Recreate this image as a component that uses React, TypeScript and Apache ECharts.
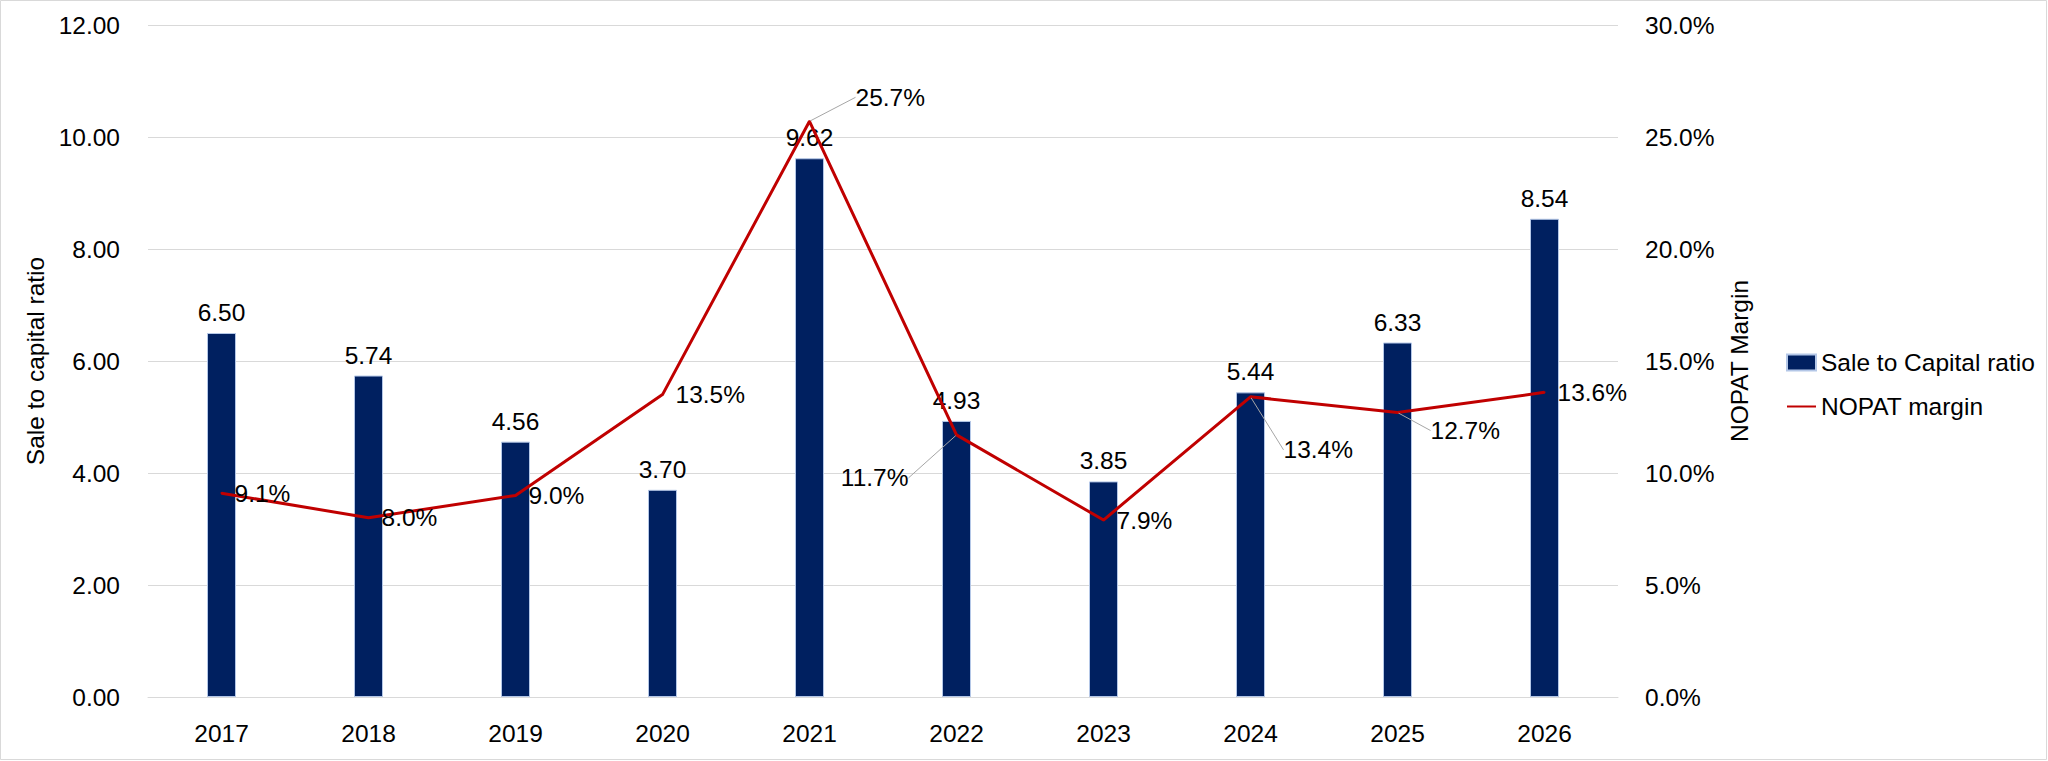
import React, { useEffect, useRef } from "react";
import * as echarts from "echarts";

const categories = ["2017", "2018", "2019", "2020", "2021", "2022", "2023", "2024", "2025", "2026"];
const saleToCapital = [6.5, 5.74, 4.56, 3.7, 9.62, 4.93, 3.85, 5.44, 6.33, 8.54];
const nopatMargin = [9.1, 8.0, 9.0, 13.5, 25.7, 11.7, 7.9, 13.4, 12.7, 13.6];
const leftTicks = { min: 0, max: 12, interval: 2 };
const rightTicks = { min: 0, max: 30, interval: 5 };

// label placement offsets for the line labels (dx, dy, position)
const lineLabelMoves: Record<number, { dx: number; dy: number; pos: string }> = {
  4: { dx: 33, dy: -24, pos: "right" },
  5: { dx: -35, dy: 43, pos: "left" },
  7: { dx: 20, dy: 53, pos: "right" },
  8: { dx: 20, dy: 18, pos: "right" },
};

const FONT = "'Liberation Sans', Arial, sans-serif";
const FS = 24.5;

export default function App() {
  const ref = useRef<HTMLDivElement>(null);
  useEffect(() => {
    document.body.style.margin = "0";
    if (!ref.current) return;
    const chart = echarts.init(ref.current, undefined, { renderer: "svg" });
    const lineData = nopatMargin.map((v, i) => {
      const m = lineLabelMoves[i];
      return {
        value: v,
        label: { position: m ? m.pos : "right" },
        labelLine: { show: !!m },
      };
    });
    chart.setOption({
      animation: false,
      backgroundColor: "#fff",
      textStyle: { fontFamily: FONT },
      graphic: [
        {
          type: "rect",
          shape: { x: 0.5, y: 0.5, width: 2046, height: 759 },
          style: { fill: "none", stroke: "#d9d9d9", lineWidth: 1 },
          silent: true,
        },
      ],
      grid: { left: 148, right: 430, top: 25, bottom: 64 },
      legend: {
        orient: "vertical",
        left: 1781,
        top: 345,
        itemWidth: 29,
        itemHeight: 16,
        itemGap: 19,
        textStyle: { fontFamily: FONT, fontSize: FS, color: "#000" },
        data: [
          { name: "Sale to Capital ratio", icon: "rect" },
          { name: "NOPAT margin", itemStyle: { opacity: 0 } },
        ],
      },
      xAxis: {
        type: "category",
        data: categories,
        axisTick: { show: false },
        axisLine: { lineStyle: { color: "#d9d9d9", width: 1 } },
        axisLabel: { fontFamily: FONT, fontSize: FS, color: "#000", margin: 24 },
      },
      yAxis: [
        {
          type: "value",
          min: leftTicks.min,
          max: leftTicks.max,
          interval: leftTicks.interval,
          name: "Sale to capital ratio",
          nameLocation: "middle",
          nameGap: 100,
          nameMoveOverlap: false,
          nameTextStyle: { fontFamily: FONT, fontSize: FS, color: "#000" },
          axisLabel: {
            fontFamily: FONT,
            fontSize: FS,
            color: "#000",
            margin: 28,
            formatter: (v: number) => v.toFixed(2),
          },
          splitLine: { lineStyle: { color: "#d9d9d9", width: 1 } },
          axisLine: { show: false },
          axisTick: { show: false },
        },
        {
          type: "value",
          min: rightTicks.min,
          max: rightTicks.max,
          interval: rightTicks.interval,
          name: "NOPAT Margin",
          nameLocation: "middle",
          nameGap: 109,
          nameMoveOverlap: false,
          nameTextStyle: { fontFamily: FONT, fontSize: FS, color: "#000" },
          axisLabel: {
            fontFamily: FONT,
            fontSize: FS,
            color: "#000",
            margin: 27,
            formatter: (v: number) => v.toFixed(1) + "%",
          },
          splitLine: { show: false },
          axisLine: { show: false },
          axisTick: { show: false },
        },
      ],
      series: [
        {
          name: "Sale to Capital ratio",
          type: "bar",
          yAxisIndex: 0,
          data: saleToCapital,
          barWidth: 29,
          itemStyle: { color: "#002060", borderColor: "#b4c7e7", borderWidth: 1 },
          label: {
            show: true,
            position: "top",
            distance: 8,
            fontFamily: FONT,
            fontSize: FS,
            color: "#000",
            formatter: (p: any) => Number(p.value).toFixed(2),
          },
        },
        {
          name: "NOPAT margin",
          type: "line",
          yAxisIndex: 1,
          data: lineData,
          symbol: "circle",
          symbolSize: 2,
          showSymbol: true,
          itemStyle: { color: "#c00000" },
          lineStyle: { color: "#c00000", width: 3 },
          z: 3,
          label: {
            show: true,
            position: "right",
            distance: 12,
            fontFamily: FONT,
            fontSize: FS,
            color: "#000",
            formatter: (p: any) => Number(p.value).toFixed(1) + "%",
          },
          labelLine: { show: true, lineStyle: { color: "#a6a6a6", width: 1 } },
          labelLayout: (params: any) => {
            const m = lineLabelMoves[params.dataIndex];
            return m ? { dx: m.dx, dy: m.dy } : {};
          },
        },
      ],
    });
    return () => chart.dispose();
  }, []);
  return <div ref={ref} style={{ width: 2048, height: 761 }} />;
}
